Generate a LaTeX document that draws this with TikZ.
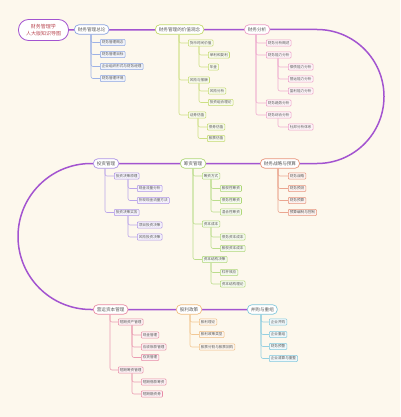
\documentclass[tikz,border=0pt]{standalone}
\usepackage{fontspec}
\newfontfamily\cjk{Noto Sans CJK SC}
\usetikzlibrary{backgrounds}
\definecolor{bgc}{RGB}{253,248,237}
\definecolor{trunkc}{RGB}{163,84,208}
\definecolor{rootc}{RGB}{185,70,80}
\definecolor{ca}{RGB}{140,165,225}
\definecolor{cb}{RGB}{196,218,110}
\definecolor{cc}{RGB}{236,160,200}
\definecolor{cd}{RGB}{232,150,125}
\definecolor{ce}{RGB}{175,150,230}
\definecolor{cf}{RGB}{175,215,120}
\definecolor{cg}{RGB}{232,140,165}
\definecolor{ch}{RGB}{240,190,130}
\definecolor{ci}{RGB}{130,200,220}
\tikzset{
  rootbox/.style={draw=trunkc, fill=white, line width=0.8pt, rounded corners=10pt,
    minimum width=50pt, minimum height=21pt, align=center, text=rootc,
    font=\cjk\fontsize{5}{6.2}\selectfont, inner sep=1pt},
  mainbox/.style={draw=#1, fill=white, line width=0.7pt, rounded corners=4.5pt,
    font=\cjk\fontsize{4.6}{5}\selectfont, text=black!65, inner xsep=3.5pt,
    inner ysep=2.6pt, anchor=west},
  subbox/.style={draw=#1, fill=#1!12, line width=0.55pt, rounded corners=1pt,
    font=\cjk\fontsize{3.6}{4}\selectfont, text=black!65, inner xsep=1.6pt,
    inner ysep=1.5pt, anchor=west},
  ln/.style={draw=#1!85, line width=0.6pt, rounded corners=2pt},
  trunk/.style={draw=trunkc, line width=1.5pt}
}
\begin{document}
\begin{tikzpicture}[x=1pt,y=-1pt]
\useasboundingbox (0,0) rectangle (400,417);
\begin{scope}[on background layer]
\fill[bgc] (0,0) rectangle (400,417);
\end{scope}
% root
\node[rootbox] (root) at (43.5,30) {财务管理学\\人大版知识导图};
% row 1
\node[mainbox=ca] (m1) at (74,29.5) {财务管理总论};
\node[mainbox=cb] (m2) at (155,29.5) {财务管理的价值观念};
\node[mainbox=cc] (m3) at (244,29.5) {财务分析};
% row 2
\node[mainbox=ce] (m5) at (93,163.5) {投资管理};
\node[mainbox=cf] (m6) at (180,163.5) {筹资管理};
\node[mainbox=cd] (m4) at (260,163.5) {财务战略与预算};
% row 3
\node[mainbox=cg] (m7) at (93,309.5) {营运资本管理};
\node[mainbox=ch] (m8) at (176,309.5) {股利政策};
\node[mainbox=ci] (m9) at (247,309.5) {并购与重组};
% branch 1
\node[subbox=ca] (a1) at (100,42.5) {财务管理概念};
\node[subbox=ca] (a2) at (100,54.5) {财务管理目标};
\node[subbox=ca] (a3) at (100,66.5) {企业组织形式与财务经理};
\node[subbox=ca] (a4) at (100,78.5) {财务管理环境};
% branch 2
\node[subbox=cb] (b1) at (188,43) {货币时间价值};
\node[subbox=cb] (b11) at (208,55) {单利和复利};
\node[subbox=cb] (b12) at (208,67) {年金};
\node[subbox=cb] (b2) at (188,80) {风险与报酬};
\node[subbox=cb] (b21) at (208,91) {风险分析};
\node[subbox=cb] (b22) at (208,102.5) {投资组合理论};
\node[subbox=cb] (b3) at (188,115) {证券估值};
\node[subbox=cb] (b31) at (207,127) {债券估值};
\node[subbox=cb] (b32) at (207,138.5) {股票估值};
% branch 3
\node[subbox=cc] (c1) at (266,43) {财务分析概述};
\node[subbox=cc] (c2) at (266,55) {财务能力分析};
\node[subbox=cc] (c21) at (288,67) {偿债能力分析};
\node[subbox=cc] (c22) at (288,79) {营运能力分析};
\node[subbox=cc] (c23) at (288,91) {盈利能力分析};
\node[subbox=cc] (c3) at (266,103) {财务趋势分析};
\node[subbox=cc] (c4) at (266,115) {财务综合分析};
\node[subbox=cc] (c41) at (288,127) {杜邦分析体系};
% branch 5
\node[subbox=ce] (e1) at (114,176) {投资决策原理};
\node[subbox=ce] (e11) at (137,188.5) {现金流量分析};
\node[subbox=ce] (e12) at (137,200.5) {折现现金流量方法};
\node[subbox=ce] (e2) at (114,212.5) {投资决策实务};
\node[subbox=ce] (e21) at (137,225) {项目投资决策};
\node[subbox=ce] (e22) at (137,237) {风险投资决策};
% branch 6
\node[subbox=cf] (f1) at (202,176) {筹资方式};
\node[subbox=cf] (f11) at (220,188.5) {股权性筹资};
\node[subbox=cf] (f12) at (220,200.5) {债务性筹资};
\node[subbox=cf] (f13) at (220,212) {混合性筹资};
\node[subbox=cf] (f2) at (202,224) {资本成本};
\node[subbox=cf] (f21) at (220,237) {债务资本成本};
\node[subbox=cf] (f22) at (220,248.5) {股权资本成本};
\node[subbox=cf] (f3) at (202,259.5) {资本结构决策};
\node[subbox=cf] (f31) at (220,272.5) {杠杆效应};
\node[subbox=cf] (f32) at (220,284) {资本结构理论};
% branch 4
\node[subbox=cd] (d1) at (288,176) {财务战略};
\node[subbox=cd] (d2) at (288,188.5) {财务预测};
\node[subbox=cd] (d3) at (288,200.5) {财务预算};
\node[subbox=cd] (d4) at (288,212.5) {预算编制与控制};
% branch 7
\node[subbox=cg] (g1) at (118,322) {短期资产管理};
\node[subbox=cg] (g11) at (141,335) {现金管理};
\node[subbox=cg] (g12) at (141,347) {应收账款管理};
\node[subbox=cg] (g13) at (141,357.5) {存货管理};
\node[subbox=cg] (g2) at (118,370) {短期筹资管理};
\node[subbox=cg] (g21) at (141,382) {短期借款筹资};
\node[subbox=cg] (g22) at (141,394) {短期融资券};
% branch 8
\node[subbox=ch] (h1) at (199,322) {股利理论};
\node[subbox=ch] (h2) at (199,334.5) {股利政策类型};
\node[subbox=ch] (h3) at (199,347) {股票分割与股票回购};
% branch 9
\node[subbox=ci] (i1) at (269,322) {企业并购};
\node[subbox=ci] (i2) at (269,334.5) {企业重组};
\node[subbox=ci] (i3) at (269,346.5) {财务预警};
\node[subbox=ci] (i4) at (269,358.5) {企业清算与重整};

\begin{scope}[on background layer]
\draw[trunk] (root.east) -- (m3.east) -- (317,29.5)
  arc[start angle=-90, end angle=90, radius=67] -- (m5.west) -- (91,163.5)
  arc[start angle=-90, end angle=-270, radius=73] -- (m9.west);
% branch 1
\foreach \c in {a1,a2,a3,a4} \draw[ln=ca] ([xshift=17pt]m1.south west) |- (\c.west);
% branch 2
\foreach \c in {b1,b2,b3} \draw[ln=cb] ([xshift=24pt]m2.south west) |- (\c.west);
\foreach \c in {b11,b12} \draw[ln=cb] ([xshift=11pt]b1.south west) |- (\c.west);
\foreach \c in {b21,b22} \draw[ln=cb] ([xshift=11pt]b2.south west) |- (\c.west);
\foreach \c in {b31,b32} \draw[ln=cb] ([xshift=10pt]b3.south west) |- (\c.west);
% branch 3
\foreach \c in {c1,c2,c3,c4} \draw[ln=cc] ([xshift=12pt]m3.south west) |- (\c.west);
\foreach \c in {c21,c22,c23} \draw[ln=cc] ([xshift=12pt]c2.south west) |- (\c.west);
\foreach \c in {c41} \draw[ln=cc] ([xshift=12pt]c4.south west) |- (\c.west);
% branch 5
\foreach \c in {e1,e2} \draw[ln=ce] ([xshift=12pt]m5.south west) |- (\c.west);
\foreach \c in {e11,e12} \draw[ln=ce] ([xshift=14pt]e1.south west) |- (\c.west);
\foreach \c in {e21,e22} \draw[ln=ce] ([xshift=14pt]e2.south west) |- (\c.west);
% branch 6
\foreach \c in {f1,f2,f3} \draw[ln=cf] ([xshift=13pt]m6.south west) |- (\c.west);
\foreach \c in {f11,f12,f13} \draw[ln=cf] ([xshift=9pt]f1.south west) |- (\c.west);
\foreach \c in {f21,f22} \draw[ln=cf] ([xshift=9pt]f2.south west) |- (\c.west);
\foreach \c in {f31,f32} \draw[ln=cf] ([xshift=9pt]f3.south west) |- (\c.west);
% branch 4
\foreach \c in {d1,d2,d3,d4} \draw[ln=cd] ([xshift=18pt]m4.south west) |- (\c.west);
% branch 7
\foreach \c in {g1,g2} \draw[ln=cg] ([xshift=17pt]m7.south west) |- (\c.west);
\foreach \c in {g11,g12,g13} \draw[ln=cg] ([xshift=14pt]g1.south west) |- (\c.west);
\foreach \c in {g21,g22} \draw[ln=cg] ([xshift=14pt]g2.south west) |- (\c.west);
% branch 8
\foreach \c in {h1,h2,h3} \draw[ln=ch] ([xshift=14pt]m8.south west) |- (\c.west);
% branch 9
\foreach \c in {i1,i2,i3,i4} \draw[ln=ci] ([xshift=14pt]m9.south west) |- (\c.west);
\end{scope}
\end{tikzpicture}
\end{document}
